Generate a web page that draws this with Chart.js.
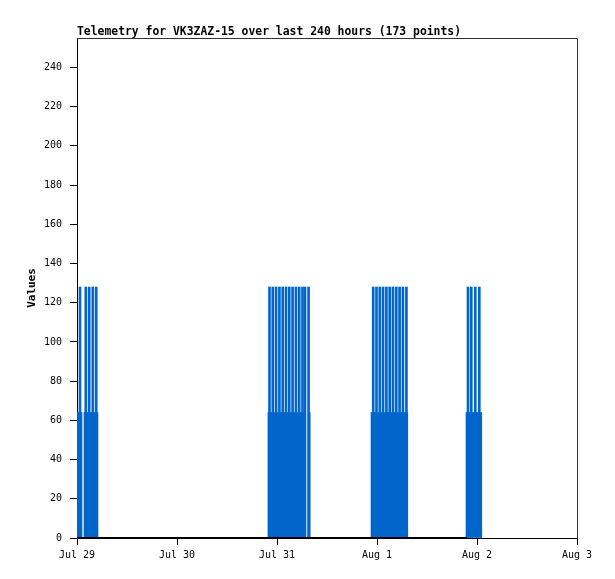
<!DOCTYPE html>
<html>
<head>
<meta charset="utf-8">
<script src="https://cdn.jsdelivr.net/npm/chart.js@4.4.1/dist/chart.umd.min.js"></script>
<style>
  html, body { margin: 0; padding: 0; background: #fff; }
  canvas { display: block; }
</style>
</head>
<body>
<canvas id="telemetryChart" width="615" height="579"></canvas>
<script>
// hours since Jul 29 00:00
var xTickHours = [0, 24, 48, 72, 96, 120];
var xTickLabels = ["Jul 29", "Jul 30", "Jul 31", "Aug 1", "Aug 2", "Aug 3"];
var yTickValues = [0, 20, 40, 60, 80, 100, 120, 140, 160, 180, 200, 220, 240];

var telemetryHours = [
  0.24, 0.72, 0.96, 1.92, 2.11, 2.52, 2.93, 3.36, 3.79, 4.20, 4.61, 4.80,
  46.06, 46.20, 46.61, 46.99, 47.40, 47.78, 48.19, 48.58, 48.98, 49.37, 49.78, 50.16, 50.57,
  50.95, 51.36, 51.74, 52.15, 52.54, 52.94, 53.33, 53.74, 54.12, 54.38, 54.72, 55.58, 55.73,
  70.80, 71.09, 71.50, 71.88, 72.29, 72.67, 73.08, 73.46, 73.87, 74.26, 74.66, 75.05,
  75.46, 75.84, 76.25, 76.63, 77.04, 77.42, 77.83, 78.22, 78.62, 79.06, 79.15,
  93.60, 93.84, 94.25, 94.63, 95.11, 95.59, 96.07, 96.55, 96.91
];
var telemetryValues = [
  64, 128, 64, 64, 128, 64, 128, 64, 128, 64, 128, 64,
  64, 128, 64, 128, 64, 128, 64, 128, 64, 128, 64, 128, 64,
  128, 64, 128, 64, 128, 64, 128, 64, 128, 64, 128, 128, 64,
  64, 128, 64, 128, 64, 128, 64, 128, 64, 128, 64, 128,
  64, 128, 64, 128, 64, 128, 64, 128, 64, 128, 64,
  64, 128, 64, 128, 64, 128, 64, 128, 64
];

var zeroHours = [0, 93.6];
var zeroValues = [0, 0];

var monoFont = "'DejaVu Sans Mono', 'Liberation Mono', monospace";

var telemetryPoints = telemetryHours.map(function (h, i) {
  return { x: h, y: telemetryValues[i] };
});
var zeroPoints = zeroHours.map(function (h, i) {
  return { x: h, y: zeroValues[i] };
});

// frame + title + y label
var framePlugin = {
  id: "frame",
  afterDraw: function (chart) {
    var ctx = chart.ctx;
    var a = chart.chartArea;
    ctx.save();
    ctx.strokeStyle = "#333";
    ctx.lineWidth = 1;
    ctx.beginPath();
    ctx.moveTo(a.left, a.top + 0.5);
    ctx.lineTo(a.right + 0.5, a.top + 0.5);
    ctx.lineTo(a.right + 0.5, a.bottom);
    ctx.stroke();

    ctx.fillStyle = "#000";
    ctx.font = "bold 11.4px " + monoFont;
    ctx.textAlign = "left";
    ctx.textBaseline = "alphabetic";
    ctx.fillText("Telemetry for VK3ZAZ-15 over last 240 hours (173 points)", a.left, 35);

    ctx.translate(32, (a.top + a.bottom) / 2);
    ctx.rotate(-Math.PI / 2);
    ctx.textAlign = "center";
    ctx.textBaseline = "middle";
    ctx.font = "bold 11px " + monoFont;
    ctx.fillText("Values", 0, 0);
    ctx.restore();
  }
};

var ctxT = document.getElementById("telemetryChart").getContext("2d");
var telemetryChart = new Chart(ctxT, {
  type: "bar",
  data: {
    datasets: [{
      type: "line",
      label: "zero",
      data: zeroPoints,
      borderColor: "#000",
      borderWidth: 2,
      pointRadius: 0,
      order: 0
    }, {
      label: "Values",
      data: telemetryPoints,
      backgroundColor: "#0066cc",
      borderWidth: 0,
      barThickness: 2,
      order: 1
    }]
  },
  options: {
    responsive: false,
    animation: false,
    devicePixelRatio: 1,
    layout: { padding: { top: 38, right: 38, left: 0, bottom: 0 } },
    plugins: {
      legend: { display: false },
      tooltip: { enabled: false },
      title: { display: false }
    },
    scales: {
      x: {
        type: "linear",
        min: 0,
        max: 120,
        offset: false,
        afterBuildTicks: function (scale) {
          scale.ticks = xTickHours.map(function (v) { return { value: v }; });
        },
        afterFit: function (scale) { scale.height = 41; },
        ticks: {
          autoSkip: false,
          maxRotation: 0,
          padding: 4,
          color: "#000",
          font: { family: monoFont, size: 10 },
          callback: function (value) {
            var i = xTickHours.indexOf(value);
            return i >= 0 ? xTickLabels[i] : "";
          }
        },
        grid: { offset: false, drawOnChartArea: false, tickLength: 7, color: "#000" },
        border: { color: "#000", width: 1 }
      },
      y: {
        min: 0,
        max: 255,
        afterBuildTicks: function (scale) {
          scale.ticks = yTickValues.map(function (v) { return { value: v }; });
        },
        afterFit: function (scale) { scale.width = 77; },
        ticks: {
          autoSkip: false,
          padding: 8,
          color: "#000",
          font: { family: monoFont, size: 10 }
        },
        grid: { drawOnChartArea: false, tickLength: 7, color: "#000" },
        border: { color: "#000", width: 1 }
      }
    }
  },
  plugins: [framePlugin]
});
</script>
</body>
</html>
